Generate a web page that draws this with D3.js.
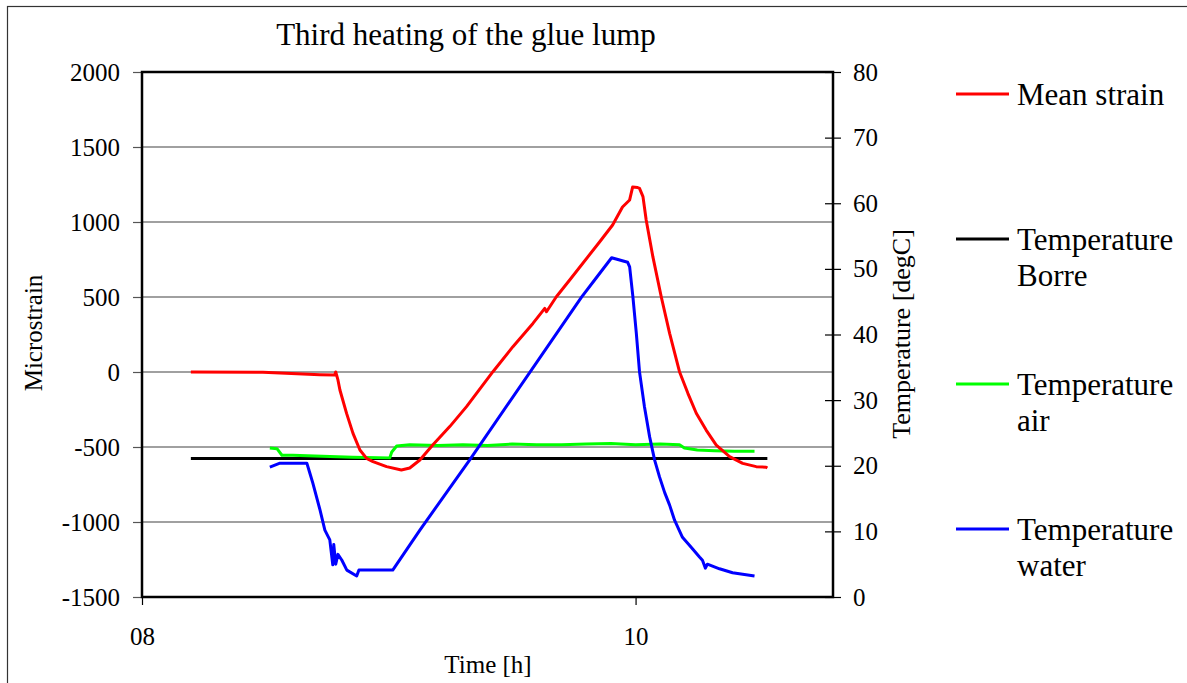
<!DOCTYPE html>
<html>
<head>
<meta charset="utf-8">
<script src="https://cdn.jsdelivr.net/npm/d3@7/dist/d3.min.js"></script>
<style>
  html, body { margin: 0; padding: 0; background: #fff; }
  svg { display: block; }
  svg text { font-family: "Liberation Serif", "Times New Roman", serif !important; fill: #000; }
</style>
</head>
<body>
<svg id="chart" width="1187" height="683"></svg>
<script>
// Time in decimal hours; strain in microstrain; temperatures in degC.
const meanStrain = [
  [8.198, 0], [8.490, -2], [8.721, -18], [8.781, -20], [8.785, 0],
  [8.794, -53], [8.802, -120], [8.829, -276], [8.855, -409], [8.883, -520],
  [8.910, -576], [8.936, -598], [8.991, -631], [9.051, -653], [9.085, -640],
  [9.126, -587], [9.178, -487], [9.247, -364], [9.315, -231], [9.422, 2],
  [9.503, 169], [9.584, 324], [9.632, 424], [9.639, 402], [9.679, 502],
  [9.733, 613], [9.854, 867], [9.907, 980], [9.947, 1100], [9.976, 1147],
  [9.988, 1233], [10.008, 1230], [10.016, 1224], [10.030, 1169], [10.043, 1013],
  [10.057, 886], [10.070, 769], [10.104, 502], [10.138, 258], [10.178, 2],
  [10.212, -142], [10.246, -275], [10.286, -387], [10.327, -487], [10.381, -564],
  [10.434, -609], [10.489, -631], [10.529, -635], [10.534, -640]
];

const tempBorre = [[8.198, 21.1], [10.534, 21.1]];

const tempAir = [
  [8.518, 22.7], [8.547, 22.6], [8.567, 21.6], [8.611, 21.6], [8.700, 21.5],
  [8.854, 21.3], [9.004, 21.2], [9.012, 22.1], [9.032, 23.0], [9.085, 23.2],
  [9.200, 23.1], [9.300, 23.2], [9.400, 23.1], [9.500, 23.3], [9.600, 23.2],
  [9.700, 23.2], [9.800, 23.3], [9.900, 23.4], [10.000, 23.2], [10.100, 23.3],
  [10.178, 23.2], [10.198, 22.7], [10.250, 22.4], [10.320, 22.3], [10.400, 22.2],
  [10.482, 22.2]
];

const tempWater = [
  [8.518, 19.8], [8.559, 20.4], [8.668, 20.4], [8.680, 18.9], [8.692, 17.4],
  [8.721, 13.3], [8.741, 10.2], [8.761, 8.7], [8.773, 4.9], [8.777, 8.0],
  [8.785, 5.0], [8.794, 6.5], [8.810, 5.6], [8.830, 4.1], [8.870, 3.2],
  [8.879, 4.1], [9.016, 4.1], [9.126, 10.2], [9.328, 20.9],
  [9.781, 45.7], [9.834, 48.3], [9.903, 51.7], [9.968, 51.0],
  [9.976, 50.3], [9.989, 45.8], [10.003, 40.2], [10.016, 34.3], [10.036, 29.0],
  [10.057, 24.4], [10.077, 20.9], [10.097, 18.3], [10.118, 15.9], [10.138, 14.0],
  [10.158, 11.7], [10.190, 9.1], [10.227, 7.5], [10.259, 6.1], [10.271, 5.6],
  [10.283, 4.4], [10.291, 5.0], [10.340, 4.3], [10.393, 3.7], [10.482, 3.2]
];

const timeTicks = [8, 10];
const strainTicks = [-1500, -1000, -500, 0, 500, 1000, 1500, 2000];
const tempTicks = [0, 10, 20, 30, 40, 50, 60, 70, 80];

const seriesNames = [["Mean strain"], ["Temperature", "Borre"], ["Temperature", "air"], ["Temperature", "water"]];
const seriesColors = ["#ff0000", "#000000", "#00ff00", "#0000ff"];

const svg = d3.select("#chart");
const plot = { left: 142, right: 833, top: 72, bottom: 597 };
const serif = "Liberation Serif";

const x = d3.scaleLinear().domain([8, 10.8]).range([plot.left, plot.right]);
const yL = d3.scaleLinear().domain([-1500, 2000]).range([plot.bottom, plot.top]);
const yR = d3.scaleLinear().domain([0, 80]).range([plot.bottom, plot.top]);

// outer chart frame
svg.append("rect")
  .attr("x", 7.5).attr("y", 6.5).attr("width", 1200).attr("height", 700)
  .attr("fill", "none").attr("stroke", "#333").attr("stroke-width", 1.2);

// title
svg.append("text")
  .attr("x", 466).attr("y", 45).attr("text-anchor", "middle")
  .attr("font-family", serif).style("font-size", "31px")
  .text("Third heating of the glue lump");

// horizontal gridlines
svg.append("g")
  .selectAll("line")
  .data(strainTicks.filter(d => d > -1500 && d < 2000))
  .join("line")
  .attr("x1", plot.left).attr("x2", plot.right)
  .attr("y1", d => yL(d)).attr("y2", d => yL(d))
  .attr("stroke", "#808080").attr("stroke-width", 1.5);

function styleAxis(g) {
  g.attr("font-family", serif).attr("font-size", 25);
  g.select(".domain").remove();
  g.selectAll(".tick text").attr("fill", "#000");
}

// left axis (strain)
const gL = svg.append("g").attr("transform", `translate(${plot.left},0)`)
  .call(d3.axisLeft(yL).tickValues(strainTicks).tickSize(9).tickPadding(13).tickFormat(d => String(d)));
styleAxis(gL);
gL.selectAll(".tick line").attr("stroke", "#555").attr("stroke-width", 1.2);

// right axis (temperature)
const gR = svg.append("g").attr("transform", `translate(${plot.right},0)`)
  .call(d3.axisRight(yR).tickValues(tempTicks).tickSize(8).tickPadding(12).tickFormat(d => String(d)));
styleAxis(gR);
gR.selectAll(".tick line").attr("x1", -8).attr("stroke", "#000").attr("stroke-width", 1.2);

// bottom axis (time)
const gB = svg.append("g").attr("transform", `translate(0,${plot.bottom})`)
  .call(d3.axisBottom(x).tickValues(timeTicks).tickSize(8).tickPadding(22)
    .tickFormat(d => d3.format("02d")(d)));
styleAxis(gB);
gB.selectAll(".tick line").attr("stroke", "#000").attr("stroke-width", 1.2);

// plot area border
svg.append("rect")
  .attr("x", plot.left).attr("y", plot.top)
  .attr("width", plot.right - plot.left).attr("height", plot.bottom - plot.top)
  .attr("fill", "none").attr("stroke", "#000").attr("stroke-width", 2.5);

// axis titles
svg.append("text")
  .attr("transform", "translate(42,333) rotate(-90)")
  .attr("text-anchor", "middle").attr("font-family", serif).style("font-size", "25px")
  .text("Microstrain");
svg.append("text")
  .attr("transform", "translate(910,334) rotate(-90)")
  .attr("text-anchor", "middle").attr("font-family", serif).style("font-size", "26px")
  .text("Temperature [degC]");
svg.append("text")
  .attr("x", 488).attr("y", 673).attr("text-anchor", "middle")
  .attr("font-family", serif).style("font-size", "25px")
  .text("Time [h]");

// series
const lineL = d3.line().x(d => x(d[0])).y(d => yL(d[1]));
const lineR = d3.line().x(d => x(d[0])).y(d => yR(d[1]));

const series = [
  { data: tempBorre, line: lineR, color: seriesColors[1] },
  { data: tempAir, line: lineR, color: seriesColors[2] },
  { data: tempWater, line: lineR, color: seriesColors[3] },
  { data: meanStrain, line: lineL, color: seriesColors[0] }
];
svg.append("g").selectAll("path")
  .data(series)
  .join("path")
  .attr("d", s => s.line(s.data))
  .attr("fill", "none")
  .attr("stroke", s => s.color)
  .attr("stroke-width", 3)
  .attr("stroke-linejoin", "round");

// legend
const legendY = [94, 239, 384, 529];
const legend = svg.append("g").selectAll("g")
  .data(seriesNames)
  .join("g")
  .attr("transform", (d, i) => `translate(956,${legendY[i]})`);
legend.append("line")
  .attr("x1", 0).attr("x2", 53).attr("y1", 0).attr("y2", 0)
  .attr("stroke", (d, i) => seriesColors[i]).attr("stroke-width", 2.8);
legend.append("text")
  .attr("x", 61).attr("y", 11)
  .attr("font-family", serif)
  .style("font-size", "31px")
  .selectAll("tspan")
  .data(d => d)
  .join("tspan")
  .attr("x", 61)
  .attr("dy", (d, i) => i === 0 ? 0 : 36)
  .text(d => d);
</script>
</body>
</html>
